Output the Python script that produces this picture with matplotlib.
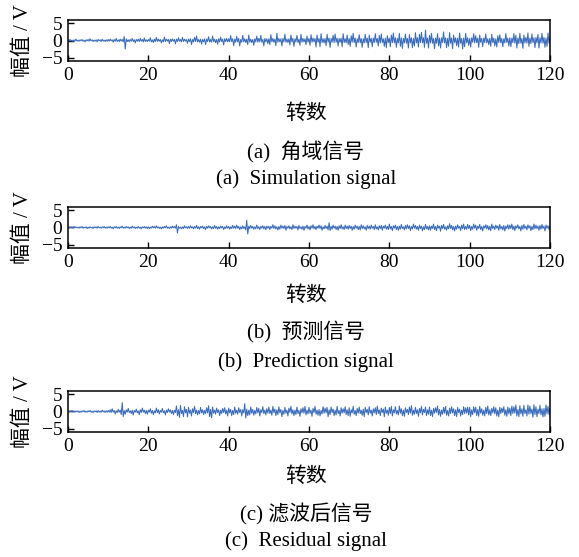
import numpy as np
import matplotlib
matplotlib.use("Agg")
import matplotlib.pyplot as plt

plt.rcParams["font.family"] = ["Liberation Serif", "Noto Sans CJK SC"]
plt.rcParams["axes.unicode_minus"] = True

# one sample every quarter revolution; values in tenths of a volt
REV_STEP = 0.25

sim_tenths = [
    2, -1, 3, -2, 1, -3, 2, -1, 4, -2, 1, -2, 2, -1, 3, -2, 1, -4, 2, -1, 3, -2, 5, -1, 2, -3, 1, -2, 2, -4, 3, -1, 2, -3, 4, -2, 1, -3, 2, -2,
    3, -2, 4, -1, 2, -5, 3, -2, 6, -3, 2, -3, 4, -2, 3, -4, 12, -25, 5, -3, 2, -4, 3, -2, 6, -3, 2, -7, 3, -2, 4, -3, 6, -2, 3, -4, 7, -3, 2, -3,
    3, -2, 8, -4, 2, -6, 4, -3, 9, -3, 4, -2, 3, -7, 2, -4, 10, -3, 4, -2, 3, -9, 4, -3, 5, -2, 3, -10, 4, -3, 8, -2, 3, -4, 9, -3, 4, -2, 3, -8,
    4, -3, 5, -12, 3, -4, 9, -3, 13, -4, 3, -5, 4, -10, 3, -4, 5, -12, 4, -3, 11, -4, 3, -5, 13, -3, 4, -6, 3, -11, 5, -4, 10, -3, 4, -13, 5, -3, 6, -4,
    5, -4, 14, -3, 5, -15, 4, -5, 12, -4, 6, -16, 3, -5, 15, -4, 5, -6, 4, -12, 16, -5, 4, -6, 3, -14, 5, -4, 13, -5, 6, -4, 15, -5, 3, -16, 6, -4, 5, -9,
    5, -12, 17, -4, 6, -5, 4, -15, 21, -5, 6, -4, 5, -16, 6, -4, 18, -5, 4, -6, 5, -13, 16, -4, 6, -17, 5, -4, 15, -6, 4, -14, 18, -5, 6, -4, 5, -12, 13, -5,
    6, -14, 17, -5, 7, -4, 6, -19, 16, -5, 6, -18, 20, -6, 5, -7, 6, -15, 18, -5, 7, -20, 6, -5, 15, -6, 19, -5, 7, -16, 6, -5, 7, -18, 20, -6, 5, -7, 16, -12,
    6, -17, 14, -5, 21, -6, 7, -19, 5, -6, 17, -7, 6, -20, 5, -7, 18, -6, 7, -21, 16, -5, 6, -18, 7, -6, 20, -5, 6, -16, 15, -7, 19, -6, 5, -17, 7, -21, 14, -6,
    7, -18, 16, -6, 22, -7, 8, -20, 6, -7, 21, -17, 8, -23, 6, -7, 19, -8, 6, -22, 17, -7, 8, -21, 6, -16, 23, -7, 8, -19, 18, -6, 24, -7, 8, -20, 30, -8, 7, -22,
    15, -7, 21, -8, 6, -24, 7, -8, 20, -16, 7, -22, 8, -6, 25, -7, 8, -21, 6, -17, 23, -8, 7, -24, 16, -6, 8, -15, 7, -19, 22, -8, 6, -25, 7, -18, 21, -7, 8, -14,
    6, -19, 8, -5, 20, -7, 14, -6, 7, -20, 16, -5, 6, -18, 7, -6, 19, -7, 5, -12, 6, -17, 18, -6, 7, -16, 5, -19, 14, -6, 17, -7, 6, -18, 5, -7, 20, -6, 7, -16,
    8, -18, 7, -6, 20, -8, 15, -22, 7, -9, 21, -8, 6, -23, 16, -7, 9, -8, 22, -17, 7, -9, 19, -6, 8, -21, 9, -7, 18, -22, 8, -7, 21, -8, 9, -20, 7, -17, 22, -8,
    8,
]

pred_tenths = [
    1, -2, 2, -1, 1, -2, 3, -1, 2, -1, 1, -2, 2, -1, 3, -2, 1, -1, 2, -3, 1, -2, 2, -1, 1, -3, 2, -1, 2, -2, 3, -1, 1, -2, 2, -1, 3, -2, 1, -2,
    2, -1, 3, -2, 1, -4, 2, -1, 3, -2, 1, -3, 2, -1, 4, -2, 1, -2, 3, -1, 2, -3, 1, -2, 4, -1, 2, -3, 1, -2, 3, -2, 1, -4, 2, -1, 3, -2, 2, -3,
    2, -3, 1, -2, 4, -1, 3, -2, 5, -1, 2, -3, 1, -4, 2, -2, 3, -1, 5, -2, 1, -3, 2, -2, 4, -1, 3, -2, 8, -16, 3, -2, 1, -4, 2, -3, 5, -1, 2, -3,
    3, -2, 5, -1, 2, -4, 3, -2, 6, -3, 2, -5, 3, -1, 4, -3, 2, -6, 3, -2, 5, -1, 3, -4, 2, -3, 6, -2, 3, -5, 2, -3, 4, -1, 3, -6, 2, -3, 5, -2,
    3, -5, 2, -3, 6, -2, 4, -3, 7, -2, 3, -6, 2, -4, 5, -3, 2, -7, 21, -19, 4, -3, 6, -2, 3, -5, 2, -4, 7, -3, 2, -6, 3, -2, 5, -4, 3, -7, 4, -2,
    4, -6, 3, -2, 8, -3, 5, -4, 2, -7, 3, -5, 7, -2, 4, -3, 6, -8, 3, -2, 5, -4, 2, -6, 8, -3, 4, -2, 3, -7, 6, -3, 2, -5, 4, -8, 3, -2, 7, -4,
    3, -7, 5, -2, 8, -4, 3, -6, 4, -2, 7, -3, 5, -8, 2, -4, 6, -3, 4, -7, 14, -9, 3, -5, 7, -2, 4, -6, 3, -8, 5, -3, 8, -4, 2, -6, 7, -3, 4, -5,
    6, -3, 4, -8, 3, -5, 7, -2, 4, -6, 3, -7, 8, -3, 5, -4, 2, -8, 6, -3, 4, -5, 7, -2, 3, -6, 8, -4, 2, -7, 5, -3, 6, -8, 4, -2, 7, -5, 3, -6,
    10, -4, 3, -9, 5, -2, 7, -6, 3, -8, 4, -5, 9, -3, 2, -7, 6, -4, 8, -3, 5, -9, 3, -4, 10, -2, 6, -5, 3, -8, 7, -3, 4, -10, 2, -6, 9, -4, 3, -7,
    5, -8, 4, -3, 10, -6, 3, -9, 7, -2, 4, -11, 6, -3, 9, -5, 2, -8, 5, -4, 11, -3, 6, -7, 3, -10, 4, -5, 8, -2, 3, -9, 7, -4, 10, -6, 3, -5, 9, -3,
    6, -9, 3, -5, 10, -2, 7, -8, 4, -3, 9, -6, 3, -10, 5, -2, 8, -4, 6, -7, 3, -9, 10, -3, 4, -6, 7, -2, 5, -8, 9, -4, 3, -7, 6, -10, 4, -3, 8, -5,
    7, -3, 10, -6, 4, -9, 5, -2, 8, -4, 3, -10, 6, -5, 9, -3, 4, -7, 8, -2, 5, -9, 3, -6, 10, -4, 7, -3, 4, -8, 6, -5, 9, -3, 4, -10, 7, -2, 5, -6,
    4,
]

resid_tenths = [
    1, -2, 2, -1, 3, -2, 1, -2, 2, -1, 2, -3, 1, -2, 2, -1, 3, -2, 1, -2, 2, -1, 3, -2, 1, -3, 2, -1, 2, -3, 3, -2, 1, -2, 4, -1, 2, -3, 2, -2,
    3, -2, 5, -3, 8, -2, 3, -7, 2, -3, 6, -2, 4, -9, 26, -15, 3, -8, 5, -2, 9, -3, 2, -6, 4, -10, 3, -2, 7, -4, 2, -9, 5, -3, 10, -2, 4, -6, 3, -8,
    4, -2, 8, -5, 3, -9, 2, -4, 10, -3, 5, -7, 3, -2, 9, -4, 2, -10, 4, -3, 8, -2, 5, -6, 3, -9, 4, -3, 16, -12, 5, -17, 18, -6, 3, -15, 14, -4, 6, -16,
    12, -5, 4, -13, 8, -3, 15, -6, 4, -10, 3, -7, 12, -4, 5, -9, 3, -6, 11, -4, 17, -15, 6, -18, 13, -5, 4, -8, 10, -3, 5, -12, 4, -6, 9, -3, 11, -7, 4, -13,
    10, -4, 6, -12, 3, -9, 13, -5, 4, -8, 11, -3, 6, -13, 5, -4, 23, -19, 7, -12, 4, -10, 13, -5, 6, -11, 3, -7, 12, -4, 9, -13, 5, -3, 14, -6, 4, -10, 8, -5,
    13, -6, 4, -11, 15, -3, 7, -12, 5, -9, 14, -4, 6, -15, 3, -8, 12, -5, 4, -13, 10, -3, 15, -7, 5, -12, 4, -9, 13, -6, 3, -14, 8, -4, 11, -5, 15, -10, 4, -7,
    12, -5, 4, -14, 9, -3, 15, -8, 4, -11, 6, -13, 3, -7, 14, -5, 10, -4, 12, -15, 5, -9, 13, -3, 7, -12, 4, -10, 15, -6, 3, -13, 11, -5, 8, -4, 14, -9, 5, -12,
    11, -14, 5, -4, 15, -8, 3, -12, 9, -5, 13, -6, 4, -11, 7, -15, 12, -3, 6, -10, 14, -5, 4, -13, 8, -4, 11, -9, 16, -6, 5, -12, 10, -3, 7, -15, 13, -5, 4, -11,
    12, -6, 15, -13, 5, -4, 14, -7, 3, -10, 16, -5, 8, -12, 4, -14, 11, -3, 6, -9, 13, -5, 17, -11, 4, -8, 12, -6, 5, -14, 9, -4, 15, -10, 6, -3, 13, -12, 5, -8,
    13, -12, 4, -15, 9, -5, 11, -3, 16, -10, 6, -14, 4, -8, 12, -5, 15, -11, 3, -13, 10, -6, 14, -4, 8, -12, 5, -15, 12, -3, 7, -13, 4, -9, 14, -6, 11, -5, 13, -10,
    12, -15, 5, -9, 14, -4, 13, -12, 6, -14, 15, -5, 8, -11, 4, -13, 12, -6, 16, -10, 5, -12, 9, -4, 14, -7, 11, -13, 4, -15, 12, -6, 10, -3, 14, -11, 5, -14, 13, -7,
    10, -12, 16, -6, 14, -5, 19, -13, 6, -15, 17, -7, 8, -14, 18, -6, 5, -13, 19, -8, 16, -6, 7, -17, 20, -9, 14, -15, 7, -6, 18, -10, 8, -16, 9, -14, 19, -7, 15, -9,
    8,
]

x_ticks = [0, 20, 40, 60, 80, 100, 120]
y_ticks = [-5, 0, 5]
x_label = "转数"
y_label = "幅值 / V"
captions_cn = ["(a)  角域信号", "(b)  预测信号", "(c) 滤波后信号"]
captions_en = ["(a)  Simulation signal", "(b)  Prediction signal", "(c)  Residual signal"]

W, H = 579, 557
LINE_COLOR = "#3a6cbc"

# axes boxes in pixels (top, bottom) and caption centres in pixels
panels = [
    dict(top=20, bottom=61, xlab=114, cn=152, en=179),
    dict(top=207, bottom=248, xlab=296, cn=332, en=362),
    dict(top=391, bottom=432, xlab=477, cn=514, en=541),
]
LEFT, RIGHT = 68, 550

fig = plt.figure(figsize=(W / 100, H / 100), dpi=100)

signals = [sim_tenths, pred_tenths, resid_tenths]
for sig, p, cn, en in zip(signals, panels, captions_cn, captions_en):
    ax = fig.add_axes([LEFT / W, 1 - p["bottom"] / H, (RIGHT - LEFT) / W, (p["bottom"] - p["top"]) / H])
    y = np.array(sig) / 10.0
    x = np.arange(len(y)) * REV_STEP
    ax.plot(x, y, color=LINE_COLOR, lw=0.75)
    ax.set_xlim(0, 120)
    ax.set_ylim(-6, 6)
    ax.set_xticks(x_ticks)
    ax.set_yticks(y_ticks)
    ax.tick_params(direction="in", length=4, width=1, labelsize=14, pad=4, colors="black")
    for s in ax.spines.values():
        s.set_linewidth(1.1)
    yc = (p["top"] + p["bottom"]) / 2
    fig.text(23 / W, 1 - yc / H, y_label, rotation=90, ha="center", va="center", fontsize=15)
    fig.text(306 / W, 1 - p["xlab"] / H, x_label, ha="center", va="center", fontsize=15)
    fig.text(306 / W, 1 - p["cn"] / H, cn, ha="center", va="center", fontsize=15)
    fig.text(306 / W, 1 - p["en"] / H, en, ha="center", va="center", fontsize=15)

fig.savefig("out.png", dpi=100)
